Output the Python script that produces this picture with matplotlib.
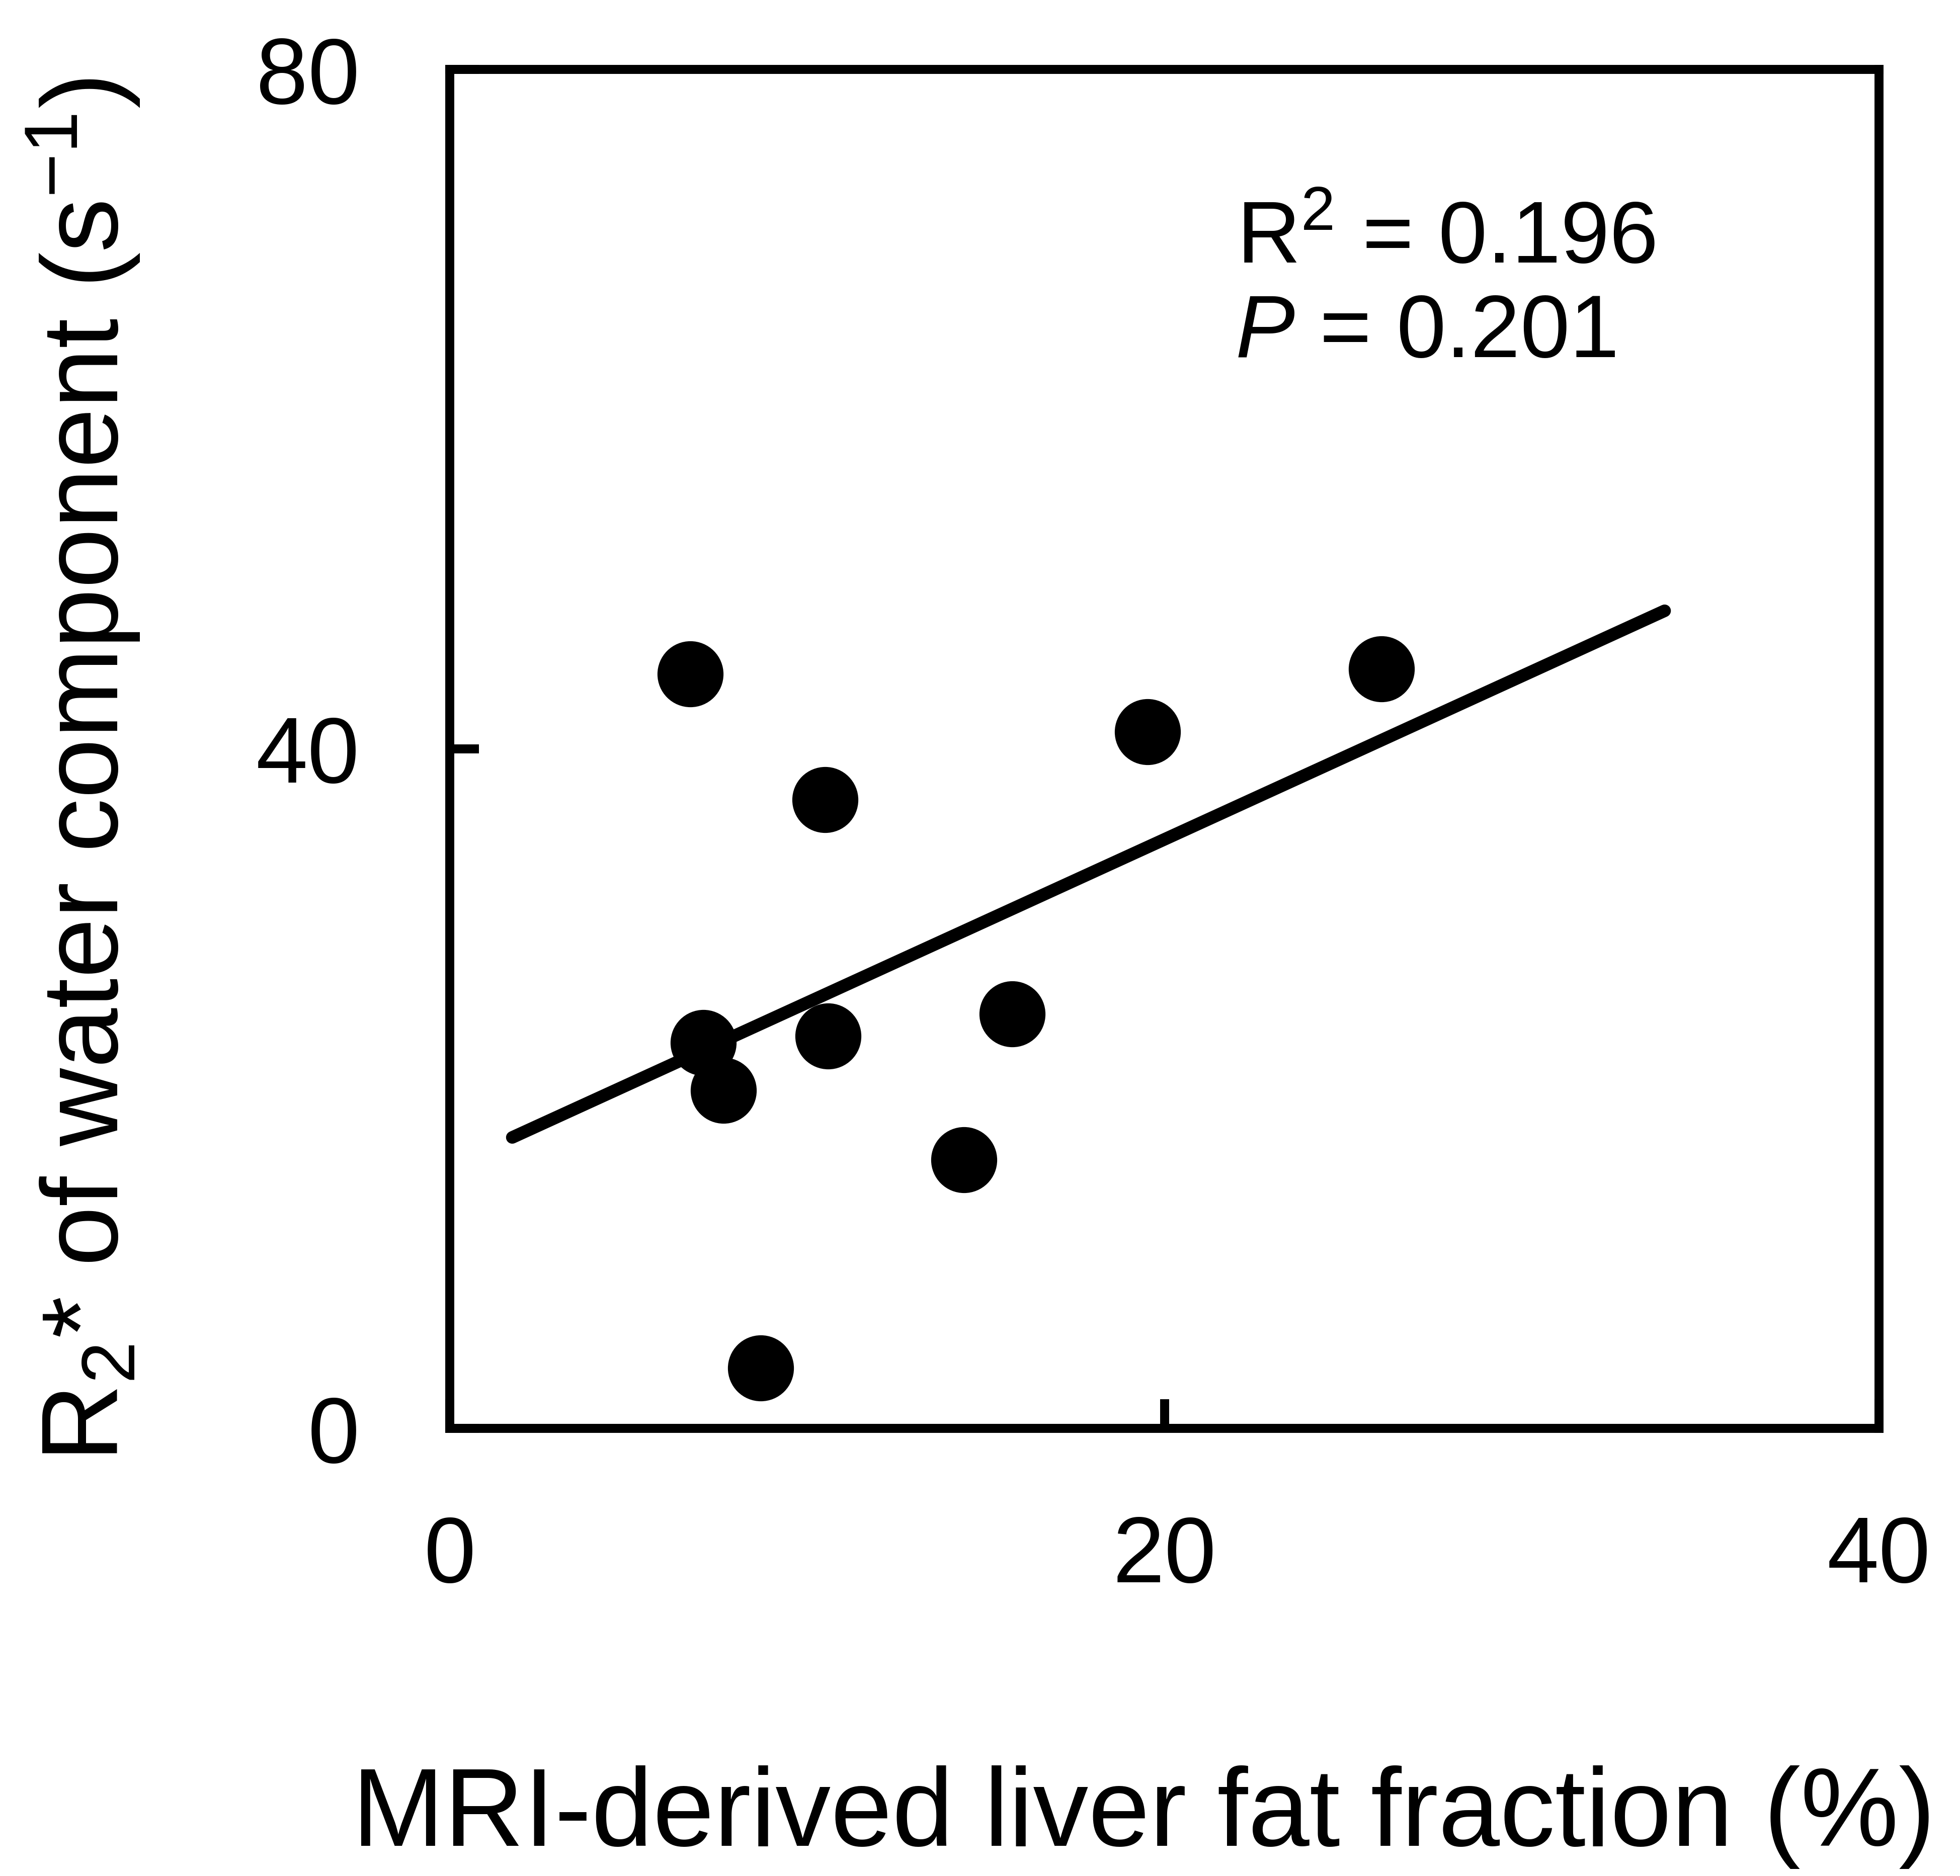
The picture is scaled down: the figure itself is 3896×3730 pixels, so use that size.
import numpy as np
import matplotlib
matplotlib.use('Agg')
import matplotlib.pyplot as plt

#### Data ####

fat_fraction = [6.73, 26.07, 19.53, 10.50, 7.10, 7.66, 10.59, 15.74, 14.39, 8.70]
r2star_water = [44.4, 44.7, 41.0, 37.0, 22.7, 19.9, 23.1, 24.4, 15.8, 3.55]

fit_range = [1.75, 34.0]

x_ticks = [0, 20, 40]
y_ticks = [0, 40, 80]

r2_text = '$\\mathrm{R}^{\\mathrm{2}}$ = 0.196'
p_text = '$P$ = 0.201'

####################

plt.rcParams['font.family'] = ['Liberation Sans', 'DejaVu Sans']
plt.rcParams['mathtext.fontset'] = 'custom'
plt.rcParams['mathtext.rm'] = 'Liberation Sans'
plt.rcParams['mathtext.it'] = 'Liberation Sans:italic'
plt.rcParams['mathtext.bf'] = 'Liberation Sans:bold'

W, H = 3896, 3730
fig = plt.figure(figsize=(W/300, H/300), dpi=300)
ax = fig.add_axes([894/W, 1 - 2840/H, (3735-894)/W, (2840-138)/H])

#### Regression line ####

slope, icept = np.polyfit(fat_fraction, r2star_water, 1)
xl = np.array(fit_range)
ax.plot(xl, slope*xl + icept, color='black', lw=6, solid_capstyle='round', zorder=2)

ax.plot(fat_fraction, r2star_water, 'o', color='black', markersize=31.5,
        markeredgewidth=0, zorder=3)

ax.set_xlim(0, 40)
ax.set_ylim(0, 80)
ax.set_xticks(x_ticks)
ax.set_yticks(y_ticks)

for s in ax.spines.values():
    s.set_linewidth(4.3)
ax.tick_params(axis='both', direction='in', length=14, width=4.3, labelsize=44.5)
ax.tick_params(axis='x', pad=41)
ax.tick_params(axis='y', pad=43)

#### Labels ####

fig.text(700/W, 1 - 3670/H, 'MRI-derived liver fat fraction (%)', fontsize=52.7,
         ha='left', va='baseline')
fig.text(235/W, 1 - 2907/H,
         'R$_{\\mathrm{2}}$* of water component (s$^{\\mathrm{-1}}$)',
         fontsize=51.5, rotation=90, rotation_mode='anchor', ha='left', va='baseline')

fig.text(2458/W, 1 - 522/H, r2_text, fontsize=42, ha='left', va='baseline')
fig.text(2455/W, 1 - 710/H, p_text, fontsize=42.5, ha='left', va='baseline')

fig.savefig('out.png', dpi=300, facecolor='white')
